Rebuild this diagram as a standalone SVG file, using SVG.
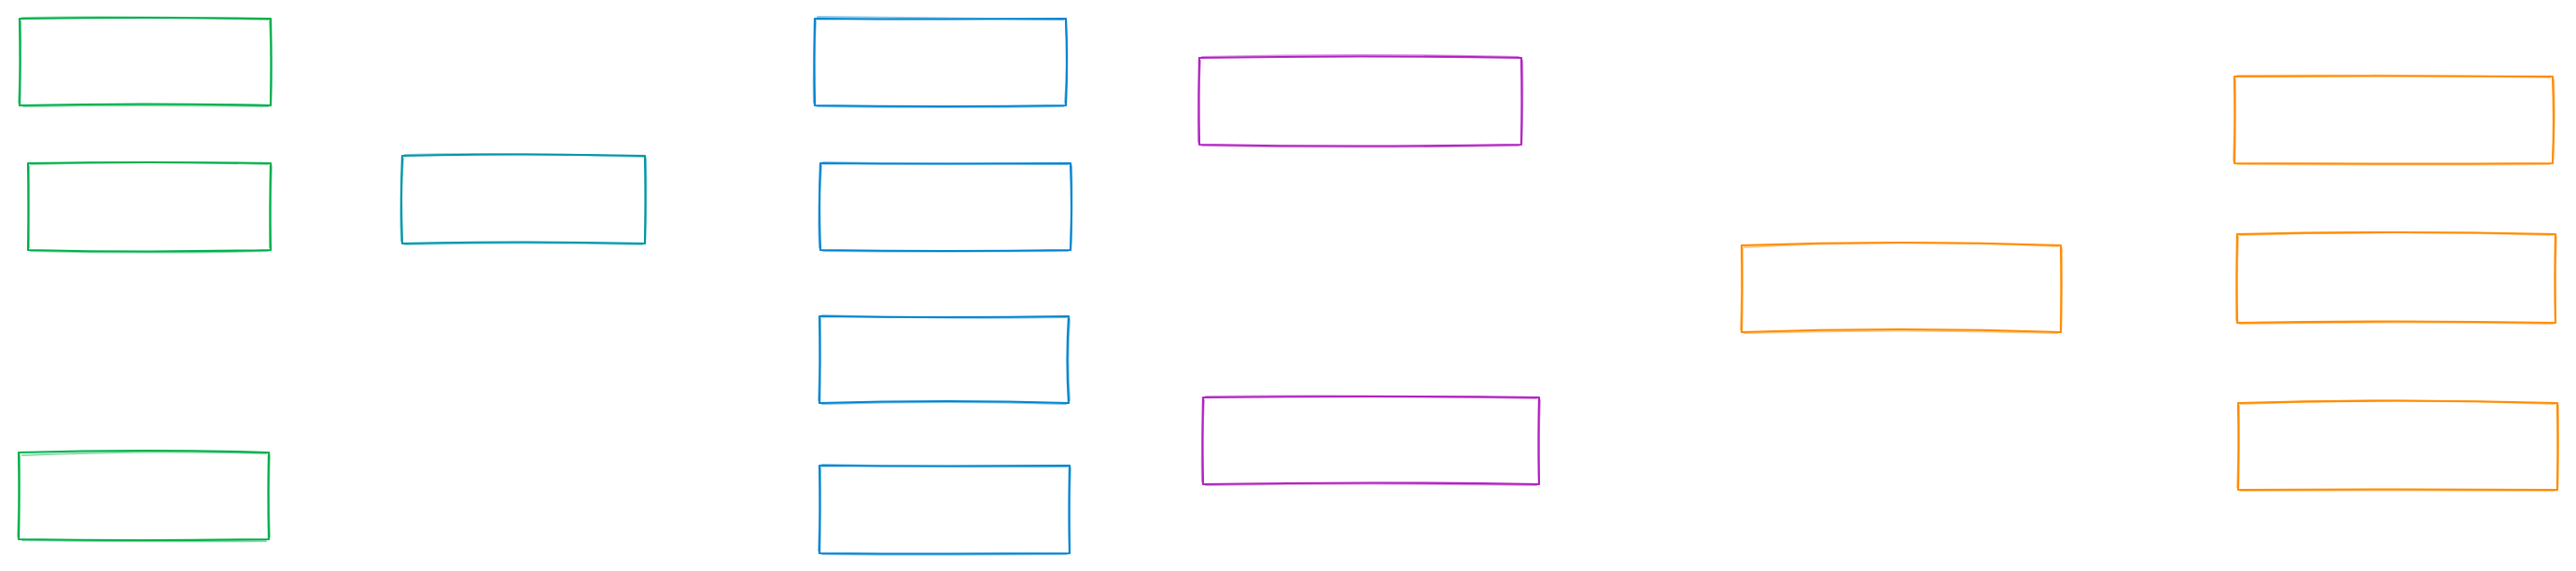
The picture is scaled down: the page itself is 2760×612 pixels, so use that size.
<svg xmlns="http://www.w3.org/2000/svg" width="2760" height="612" viewBox="0 0 2760 612">
<style>
.b1{fill:none;stroke-width:2.2;stroke-linecap:round;stroke-linejoin:round}
.b2{fill:none;stroke-width:2;stroke-linecap:round;opacity:.45}
.green{stroke:#00b04c}
.teal{stroke:#0096a8}
.blue{stroke:#0284d0}
.mag{stroke:#b124c2}
.orange{stroke:#ff8c00}
</style>
<rect width="2760" height="612" fill="#ffffff"/>
<g id="connectors"></g>
<g id="nodeA" class="green">
<path class="b1" d="M21 20 Q155 18 290 20 Q291 66 290 113 Q155 110 21 113 Q22 66 21 20 Z"/>
<path class="b2" d="M24 19 Q150 17 288 21 M289 23 Q292 66 290 110 M287 114 Q150 112 25 114 M20 110 Q23 66 22 23"/>
</g>
<g id="nodeB" class="green">
<path class="b1" d="M30 175 Q160 173 290 175 Q289 222 290 268 Q160 271 30 268 Q31 222 30 175 Z"/>
<path class="b2" d="M33 176 Q160 172 287 176 M291 178 Q289 222 289 265 M287 269 Q160 272 33 269 M31 265 Q30 222 31 178"/>
</g>
<g id="nodeD" class="green">
<path class="b1" d="M20 485 Q155 481 288 485 Q287 532 288 578 Q155 580 20 578 Q21 532 20 485 Z"/>
<path class="b2" d="M24 488 Q155 482 285 486 M289 488 Q287 532 289 575 M285 580 Q155 581 24 579 M19 575 Q21 532 21 488"/>
</g>
<g id="nodeC" class="teal">
<path class="b1" d="M431 167 Q561 164 691 167 Q692 214 691 261 Q561 258 431 261 Q429 214 431 167 Z"/>
<path class="b2" d="M434 166 Q560 163 689 168 M692 170 Q693 214 691 258 M688 262 Q560 259 434 262 M430 258 Q428 214 432 170"/>
</g>
<g id="nodeE" class="blue">
<path class="b1" d="M873 20 Q1008 21 1142 20 Q1144 66 1142 113 Q1008 115 873 113 Q872 66 873 20 Z"/>
<path class="b2" d="M876 18 Q1008 20 1139 21 M1142 23 Q1145 66 1141 110 M1139 114 Q1008 116 876 114 M872 110 Q871 66 874 23"/>
</g>
<g id="nodeF" class="blue">
<path class="b1" d="M879 175 Q1013 176 1147 175 Q1149 222 1147 268 Q1013 270 879 268 Q877 222 879 175 Z"/>
<path class="b2" d="M882 174 Q1013 176 1144 176 M1148 178 Q1149 222 1147 265 M1144 269 Q1013 270 882 269 M878 265 Q876 222 880 178"/>
</g>
<g id="nodeH" class="blue">
<path class="b1" d="M878 339 Q1012 341 1145 339 Q1142 386 1145 432 Q1012 428 878 432 Q879 386 878 339 Z"/>
<path class="b2" d="M881 338 Q1012 342 1142 340 M1146 342 Q1143 386 1146 429 M1142 433 Q1012 429 881 433 M877 429 Q879 386 879 342"/>
</g>
<g id="nodeI" class="blue">
<path class="b1" d="M878 499 Q1012 500 1146 499 Q1145 546 1146 593 Q1012 594 878 593 Q879 546 878 499 Z"/>
<path class="b2" d="M881 498 Q1012 501 1143 500 M1147 502 Q1145 546 1146 590 M1143 594 Q1012 595 881 594 M877 590 Q879 546 879 502"/>
</g>
<g id="nodeG" class="mag">
<path class="b1" d="M1285 62 Q1458 59 1630 62 Q1631 108 1630 155 Q1458 158 1285 155 Q1284 108 1285 62 Z"/>
<path class="b2" d="M1288 61 Q1458 57 1627 61 M1631 65 Q1632 108 1630 152 M1627 156 Q1458 159 1288 156 M1284 152 Q1283 108 1286 65"/>
</g>
<g id="nodeJ" class="mag">
<path class="b1" d="M1289 426 Q1469 424 1649 426 Q1648 472 1649 519 Q1469 516 1289 519 Q1288 472 1289 426 Z"/>
<path class="b2" d="M1292 425 Q1469 423 1646 427 M1650 429 Q1648 472 1649 516 M1646 520 Q1469 517 1292 520 M1288 516 Q1287 472 1290 429"/>
</g>
<g id="nodeK" class="orange">
<path class="b1" d="M1866 263 Q2037 257 2208 263 Q2209 310 2208 356 Q2037 350 1866 356 Q1867 310 1866 263 Z"/>
<path class="b2" d="M1869 265 Q2037 256 2205 264 M2209 266 Q2209 310 2208 353 M2205 357 Q2037 352 1869 357 M1865 353 Q1867 310 1867 266"/>
</g>
<g id="nodeL" class="orange">
<path class="b1" d="M2394 82 Q2565 81 2735 82 Q2737 128 2735 175 Q2565 176 2394 175 Q2395 128 2394 82 Z"/>
<path class="b2" d="M2397 81 Q2565 80 2732 83 M2736 85 Q2738 128 2735 172 M2732 176 Q2565 177 2397 176 M2393 172 Q2395 128 2395 85"/>
</g>
<g id="nodeM" class="orange">
<path class="b1" d="M2397 251 Q2568 247 2738 251 Q2737 298 2738 346 Q2568 343 2397 346 Q2396 298 2397 251 Z"/>
<path class="b2" d="M2400 252 Q2568 246 2735 252 M2739 254 Q2737 298 2738 343 M2735 347 Q2568 344 2400 347 M2396 343 Q2396 298 2398 254"/>
</g>
<g id="nodeN" class="orange">
<path class="b1" d="M2398 432 Q2569 427 2740 432 Q2741 478 2740 525 Q2569 524 2398 525 Q2399 478 2398 432 Z"/>
<path class="b2" d="M2401 433 Q2569 426 2737 433 M2741 435 Q2741 478 2740 522 M2737 526 Q2569 525 2401 526 M2397 522 Q2399 478 2399 435"/>
</g>
</svg>
